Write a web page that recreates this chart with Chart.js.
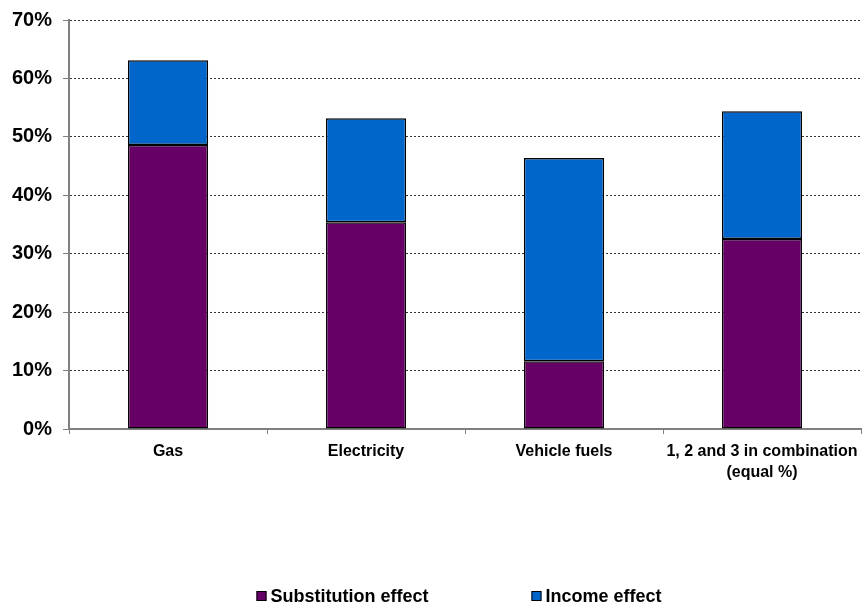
<!DOCTYPE html>
<html>
<head>
<meta charset="utf-8">
<script src="https://cdn.jsdelivr.net/npm/chart.js@4/dist/chart.umd.min.js"></script>
<style>
  html, body { margin: 0; padding: 0; background: #fff; }
  #wrap { width: 862px; height: 610px; position: relative; }
</style>
</head>
<body>
<div id="wrap"><canvas id="c"></canvas></div>
<script>
const categories = ["Gas", "Electricity", "Vehicle fuels", ["1, 2 and 3 in combination", "(equal %)"]];
const substitution = [48.6, 35.4, 11.6, 32.5];
const income = [14.5, 17.8, 34.8, 21.9];
const yTicks = [0, 10, 20, 30, 40, 50, 60, 70];
const seriesNames = ["Substitution effect", "Income effect"];
const seriesColors = ["#660066", "#0066CC"];

const FONT = "'Liberation Sans', Arial, sans-serif";

const customLegend = {
  id: 'customLegend',
  afterDraw(chart) {
    const ctx = chart.ctx;
    ctx.save();
    ctx.font = "bold 18px " + FONT;
    ctx.textBaseline = 'middle';
    const box = 10, gapText = 4, gapItems = 103;
    const widths = seriesNames.map(n => box + gapText + ctx.measureText(n).width);
    const total = widths.reduce((a, b) => a + b, 0) + gapItems * (widths.length - 1);
    const ca = chart.chartArea;
    let x = (ca.left + ca.right) / 2 - 6 - total / 2;
    const y = 596;
    seriesNames.forEach((n, i) => {
      ctx.fillStyle = seriesColors[i];
      ctx.fillRect(x, y - box / 2, box, box);
      ctx.strokeStyle = '#000';
      ctx.lineWidth = 1;
      ctx.strokeRect(x + 0.5, y - box / 2 + 0.5, box - 1, box - 1);
      ctx.fillStyle = '#000';
      ctx.fillText(n, x + box + gapText, y + 1);
      x += widths[i] + gapItems;
    });
    ctx.restore();
  }
};

new Chart(document.getElementById('c'), {
  type: 'bar',
  data: {
    labels: categories,
    datasets: [
      { label: seriesNames[0], data: substitution, backgroundColor: seriesColors[0], borderColor: '#000', borderWidth: 1.5, borderSkipped: false, barPercentage: 0.81, categoryPercentage: 0.5 },
      { label: seriesNames[1], data: income, backgroundColor: seriesColors[1], borderColor: '#000', borderWidth: 1.5, borderSkipped: false, barPercentage: 0.81, categoryPercentage: 0.5 }
    ]
  },
  options: {
    responsive: true,
    maintainAspectRatio: false,
    animation: false,
    layout: { padding: { top: 20, right: 1, left: 0, bottom: 0 } },
    plugins: {
      legend: { display: false },
      tooltip: { enabled: false }
    },
    scales: {
      x: {
        stacked: true,
        afterFit(scale) { scale.height = 181; scale.paddingLeft = 0; scale.paddingRight = 0; },
        grid: { display: true, drawOnChartArea: false, drawTicks: true, tickLength: 5, color: '#808080', offset: true },
        border: { display: true, color: '#808080', width: 2 },
        ticks: {
          color: '#000',
          padding: 7,
          maxRotation: 0,
          autoSkip: false,
          font: { family: FONT, size: 16, weight: 'bold', lineHeight: 1.3 }
        }
      },
      y: {
        stacked: true,
        min: 0,
        max: 70,
        afterFit(scale) { scale.width = 69; scale.paddingTop = 0; scale.paddingBottom = 0; },
        afterBuildTicks(scale) { scale.ticks = yTicks.map(v => ({ value: v })); },
        grid: {
          color: '#333',
          lineWidth: 1,
          tickLength: 6,
          drawTicks: true,
          tickColor: '#808080'
        },
        border: { display: true, color: '#808080', width: 2, dash: [2, 2] },
        ticks: {
          color: '#000',
          padding: 11,
          font: { family: FONT, size: 20, weight: 'bold' },
          callback: v => v + '%'
        }
      }
    }
  },
  plugins: [customLegend]
});
</script>
</body>
</html>
